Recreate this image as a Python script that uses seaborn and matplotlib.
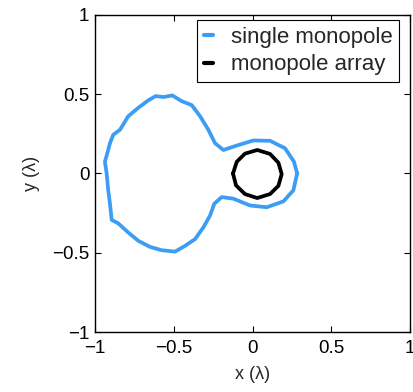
import matplotlib
matplotlib.use("Agg")
import matplotlib.pyplot as plt
import seaborn as sns
import pandas as pd

single_x = [0.283, 0.263, 0.206, 0.111, 0.005, -0.100, -0.185, -0.238, -0.281, -0.333,
            -0.386, -0.450, -0.509, -0.566, -0.615, -0.662, -0.725, -0.789, -0.841, -0.884,
            -0.905, -0.919, -0.937, -0.926, -0.916, -0.905, -0.898, -0.894, -0.852, -0.789,
            -0.725, -0.651, -0.577, -0.492, -0.429, -0.365, -0.312, -0.270, -0.243, -0.196,
            -0.122, -0.016, 0.090, 0.196, 0.259, 0.283]
single_y = [0.0, 0.074, 0.159, 0.206, 0.208, 0.176, 0.148, 0.191, 0.276, 0.361,
            0.431, 0.456, 0.492, 0.482, 0.488, 0.461, 0.414, 0.361, 0.276, 0.244,
            0.191, 0.138, 0.074, 0.0, -0.106, -0.191, -0.255, -0.293, -0.315, -0.372,
            -0.425, -0.463, -0.484, -0.493, -0.457, -0.414, -0.340, -0.266, -0.191, -0.149,
            -0.159, -0.202, -0.213, -0.176, -0.106, 0.0]

array_x = [-0.124, -0.100, -0.048, 0.030, 0.111, 0.164, 0.185, 0.164, 0.111, 0.030,
           -0.048, -0.105, -0.124]
array_y = [0.0, 0.074, 0.125, 0.148, 0.123, 0.068, -0.004, -0.078, -0.130, -0.155,
           -0.130, -0.075, 0.0]

ticks = [-1, -0.5, 0, 0.5, 1]
tick_labels = ["\u22121", "\u22120.5", "0", "0.5", "1"]

sns.set_theme(style="ticks")
plt.rcParams['font.family'] = ['Liberation Sans', 'DejaVu Sans']

fig = plt.figure(figsize=(4.13, 3.92), dpi=100)
ax = fig.add_axes([0.230, 0.153, 0.763, 0.809])

df1 = pd.DataFrame({"x": single_x, "y": single_y})
df2 = pd.DataFrame({"x": array_x, "y": array_y})
sns.lineplot(data=df1, x="x", y="y", sort=False, estimator=None, ax=ax,
             color="#3d9df5", linewidth=2.7, label="single monopole")
sns.lineplot(data=df2, x="x", y="y", sort=False, estimator=None, ax=ax,
             color="black", linewidth=2.7, label="monopole array")

ax.set_xlim(-1, 1)
ax.set_ylim(-1, 1)
ax.set_xticks(ticks)
ax.set_xticklabels(tick_labels)
ax.set_yticks(ticks)
ax.set_yticklabels(tick_labels)
ax.tick_params(direction="in", top=True, right=True, length=4, width=0.8,
               labelsize=13.5, colors="black")
ax.tick_params(axis="x", pad=6)
ax.tick_params(axis="y", pad=4)
for s in ax.spines.values():
    s.set_visible(True)
    s.set_color("black")
    s.set_linewidth(1.0)
ax.set_xlabel("x (\u03bb)", fontsize=13, labelpad=6)
ax.set_ylabel("y (\u03bb)", fontsize=13, labelpad=9)

leg = ax.legend(loc="upper right", bbox_to_anchor=(0.965, 0.984), borderaxespad=0,
                fontsize=16, handlelength=0.4, handletextpad=0.8,
                borderpad=0.3, labelspacing=0.3, fancybox=False, framealpha=1,
                edgecolor="black")
leg.get_frame().set_linewidth(0.8)
for l in leg.get_lines():
    l.set_linewidth(3)

fig.savefig("out.png", dpi=100)
